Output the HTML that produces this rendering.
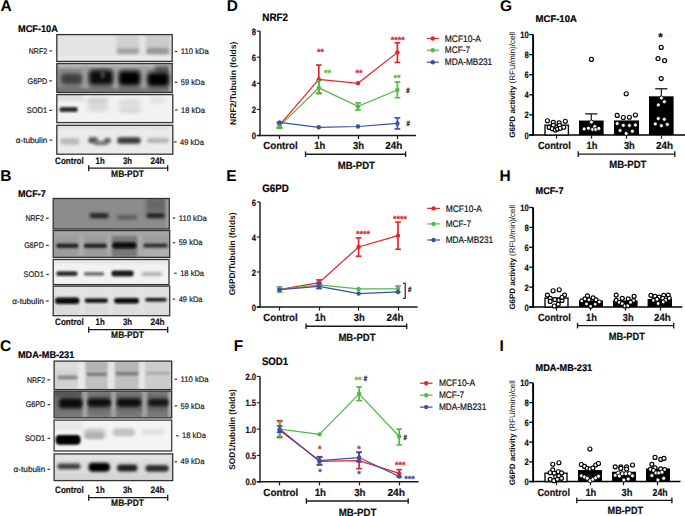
<!DOCTYPE html>
<html><head><meta charset="utf-8"><style>
html,body{margin:0;padding:0;background:#fff;}
body{width:685px;height:516px;overflow:hidden;}
svg{display:block;font-family:"Liberation Sans",sans-serif;text-rendering:geometricPrecision;}
</style></head><body>
<svg width="685" height="516" viewBox="0 0 685 516">
<defs>
<filter id="b0.8" x="-50%" y="-50%" width="200%" height="200%"><feGaussianBlur stdDeviation="0.8"/></filter>
<filter id="b1" x="-50%" y="-50%" width="200%" height="200%"><feGaussianBlur stdDeviation="1"/></filter>
<filter id="b1.1" x="-50%" y="-50%" width="200%" height="200%"><feGaussianBlur stdDeviation="1.1"/></filter>
<filter id="b1.2" x="-50%" y="-50%" width="200%" height="200%"><feGaussianBlur stdDeviation="1.2"/></filter>
<filter id="b1.3" x="-50%" y="-50%" width="200%" height="200%"><feGaussianBlur stdDeviation="1.3"/></filter>
<filter id="b1.4" x="-50%" y="-50%" width="200%" height="200%"><feGaussianBlur stdDeviation="1.4"/></filter>
<filter id="b1.5" x="-50%" y="-50%" width="200%" height="200%"><feGaussianBlur stdDeviation="1.5"/></filter>
<filter id="b1.6" x="-50%" y="-50%" width="200%" height="200%"><feGaussianBlur stdDeviation="1.6"/></filter>
<filter id="b1.8" x="-50%" y="-50%" width="200%" height="200%"><feGaussianBlur stdDeviation="1.8"/></filter>
<filter id="b2" x="-50%" y="-50%" width="200%" height="200%"><feGaussianBlur stdDeviation="2"/></filter>
<filter id="b2.1" x="-50%" y="-50%" width="200%" height="200%"><feGaussianBlur stdDeviation="2.1"/></filter>
<filter id="b2.2" x="-50%" y="-50%" width="200%" height="200%"><feGaussianBlur stdDeviation="2.2"/></filter>
<filter id="b2.3" x="-50%" y="-50%" width="200%" height="200%"><feGaussianBlur stdDeviation="2.3"/></filter>
<filter id="b2.5" x="-50%" y="-50%" width="200%" height="200%"><feGaussianBlur stdDeviation="2.5"/></filter>
</defs>
<rect width="685" height="516" fill="#fff"/>
<text x="0.50" y="11.20" font-size="15.5" font-weight="bold" text-anchor="start" fill="#000" >A</text>
<text x="0.20" y="181.40" font-size="15.5" font-weight="bold" text-anchor="start" fill="#000" >B</text>
<text x="0.10" y="351.00" font-size="15.5" font-weight="bold" text-anchor="start" fill="#000" >C</text>
<text x="226.80" y="11.30" font-size="15.5" font-weight="bold" text-anchor="start" fill="#000" >D</text>
<text x="226.30" y="181.40" font-size="15.5" font-weight="bold" text-anchor="start" fill="#000" >E</text>
<text x="233.80" y="351.00" font-size="15.5" font-weight="bold" text-anchor="start" fill="#000" >F</text>
<text x="499.90" y="11.20" font-size="15.5" font-weight="bold" text-anchor="start" fill="#000" >G</text>
<text x="499.50" y="181.40" font-size="15.5" font-weight="bold" text-anchor="start" fill="#000" >H</text>
<text x="499.60" y="351.00" font-size="15.5" font-weight="bold" text-anchor="start" fill="#000" >I</text>
<text x="18.00" y="31.75" font-size="9.8" font-weight="bold" textLength="39.80" lengthAdjust="spacingAndGlyphs" fill="#000"  stroke="#000" stroke-width="0.2">MCF-10A</text>
<clipPath id="c1"><rect x="56.8" y="34.6" width="115.40" height="26.80"/></clipPath>
<g clip-path="url(#c1)">
<rect x="56.8" y="34.6" width="115.40" height="26.80" fill="#e3e3e3"/>
<rect x="116.5" y="34" width="22.50" height="21.00" fill="#d0d0d0" opacity="1" filter="url(#b1.5)"/>
<rect x="146" y="34" width="24.00" height="21.00" fill="#cbcbcb" opacity="1" filter="url(#b1.5)"/>
<rect x="57" y="55.5" width="115.00" height="5.50" fill="#e9e9e9" opacity="1" filter="url(#b1)"/>
<rect x="117" y="48.25" width="22.00" height="5.5" rx="2.75" fill="#a3a3a3" opacity="1" filter="url(#b1.5)"/>
<rect x="146.5" y="48.00" width="22.50" height="6" rx="3.00" fill="#959595" opacity="1" filter="url(#b1.5)"/>
</g>
<rect x="56.8" y="34.6" width="115.40" height="26.80" fill="none" stroke="#333" stroke-width="1.3"/>
<clipPath id="c2"><rect x="56.8" y="63.5" width="115.40" height="29.00"/></clipPath>
<g clip-path="url(#c2)">
<rect x="56.8" y="63.5" width="115.40" height="29.00" fill="#8e8e8e"/>
<rect x="57" y="63.5" width="115.00" height="4.00" fill="#c0c0c0" opacity="1" filter="url(#b1.5)"/>
<rect x="57" y="87" width="115.00" height="6.00" fill="#727272" opacity="1" filter="url(#b1.5)"/>
<rect x="82" y="66" width="7.00" height="22.00" fill="#a0a0a0" opacity="1" filter="url(#b1.5)"/>
<rect x="113" y="66" width="5.00" height="22.00" fill="#a8a8a8" opacity="1" filter="url(#b1.5)"/>
<rect x="141" y="66" width="6.00" height="22.00" fill="#a0a0a0" opacity="1" filter="url(#b1.5)"/>
<rect x="155" y="66" width="15.00" height="8.00" fill="#555" opacity="1" filter="url(#b2)"/>
<rect x="169" y="63" width="4.00" height="30.00" fill="#aaa" opacity="1" filter="url(#b1)"/>
<rect x="61" y="73.50" width="21.00" height="11" rx="4.00" fill="#3c3c3c" opacity="1" filter="url(#b2.3)"/>
<rect x="89" y="70.10" width="24.00" height="15" rx="4.00" fill="#080808" opacity="1" filter="url(#b2.2)"/>
<rect x="118.9" y="71.05" width="21.20" height="14.5" rx="4.00" fill="#000" opacity="1" filter="url(#b2.1)"/>
<rect x="147.4" y="72.75" width="21.70" height="13.5" rx="4.00" fill="#000" opacity="1" filter="url(#b2.1)"/>
<rect x="101" y="70.5" width="3.50" height="7.50" fill="#4a4a4a" opacity="1" filter="url(#b1.6)"/>
</g>
<rect x="56.8" y="63.5" width="115.40" height="29.00" fill="none" stroke="#333" stroke-width="1.3"/>
<clipPath id="c3"><rect x="56.8" y="94.6" width="116.00" height="28.00"/></clipPath>
<g clip-path="url(#c3)">
<rect x="56.8" y="94.6" width="116.00" height="28.00" fill="#f2f2f2"/>
<rect x="57" y="94" width="27.00" height="7.00" fill="#dedede" opacity="1" filter="url(#b1.5)"/>
<rect x="59.4" y="107.00" width="18.40" height="5" rx="2.50" fill="#2e2e2e" opacity="1" filter="url(#b1.2)"/>
<rect x="87.4" y="97.50" width="21.00" height="7" rx="3.50" fill="#cacaca" opacity="1" filter="url(#b2.5)"/>
<rect x="87.4" y="105.00" width="21.00" height="6" rx="3.00" fill="#d4d4d4" opacity="1" filter="url(#b2.5)"/>
<rect x="119" y="99.50" width="21.80" height="7" rx="3.50" fill="#d8d8d8" opacity="1" filter="url(#b2.5)"/>
<rect x="119" y="107.50" width="21.80" height="5" rx="2.50" fill="#d0d0d0" opacity="1" filter="url(#b2.3)"/>
<rect x="149.6" y="96.50" width="15.70" height="7" rx="3.50" fill="#e2e2e2" opacity="1" filter="url(#b2.3)"/>
</g>
<rect x="56.8" y="94.6" width="116.00" height="28.00" fill="none" stroke="#333" stroke-width="1.3"/>
<clipPath id="c4"><rect x="56.8" y="125.3" width="116.00" height="28.90"/></clipPath>
<g clip-path="url(#c4)">
<rect x="56.8" y="125.3" width="116.00" height="28.90" fill="#ebebeb"/>
<rect x="57" y="125" width="115.00" height="4.00" fill="#e0e0e0" opacity="1" filter="url(#b1.2)"/>
<rect x="60.3" y="138.15" width="19.20" height="6.5" rx="3.25" fill="#bababa" opacity="1" filter="url(#b1.6)"/>
<rect x="88.3" y="137.20" width="9.70" height="6" rx="3.00" fill="#505050" opacity="1" filter="url(#b1.4)"/>
<rect x="94" y="140.75" width="14.00" height="4.5" rx="2.25" fill="#777" opacity="1" filter="url(#b1.4)"/>
<rect x="104" y="138.00" width="7.00" height="5" rx="2.50" fill="#5a5a5a" opacity="1" filter="url(#b1.4)"/>
<rect x="117.2" y="137.25" width="23.60" height="6.5" rx="3.25" fill="#3a3a3a" opacity="1" filter="url(#b1.4)"/>
<rect x="147" y="138.00" width="21.80" height="5" rx="2.50" fill="#b2b2b2" opacity="1" filter="url(#b1.6)"/>
</g>
<rect x="56.8" y="125.3" width="116.00" height="28.90" fill="none" stroke="#333" stroke-width="1.3"/>
<text x="28.80" y="53.60" font-size="8.2" textLength="18.30" lengthAdjust="spacingAndGlyphs" fill="#1e1e1e" stroke="#1e1e1e" stroke-width="0.22">NRF2</text>
<rect x="49.40" y="50.30" width="2.60" height="1.2" fill="#333"/>
<text x="27.60" y="83.60" font-size="8.2" textLength="19.50" lengthAdjust="spacingAndGlyphs" fill="#1e1e1e" stroke="#1e1e1e" stroke-width="0.22">G6PD</text>
<rect x="49.40" y="80.30" width="2.60" height="1.2" fill="#333"/>
<text x="26.80" y="113.10" font-size="8.2" textLength="20.30" lengthAdjust="spacingAndGlyphs" fill="#1e1e1e" stroke="#1e1e1e" stroke-width="0.22">SOD1</text>
<rect x="49.40" y="109.80" width="2.60" height="1.2" fill="#333"/>
<text x="15.70" y="142.80" font-size="8.2" textLength="31.60" lengthAdjust="spacingAndGlyphs" fill="#1e1e1e" stroke="#1e1e1e" stroke-width="0.22">α-tubulin</text>
<rect x="49.60" y="139.50" width="2.60" height="1.2" fill="#333"/>
<text x="180.80" y="54.10" font-size="8.1" textLength="28.00" lengthAdjust="spacingAndGlyphs" fill="#1e1e1e" stroke="#1e1e1e" stroke-width="0.22">110 kDa</text>
<rect x="174.80" y="50.90" width="2.50" height="1.2" fill="#333"/>
<text x="180.80" y="84.80" font-size="8.1" textLength="23.80" lengthAdjust="spacingAndGlyphs" fill="#1e1e1e" stroke="#1e1e1e" stroke-width="0.22">59 kDa</text>
<rect x="174.80" y="81.60" width="2.50" height="1.2" fill="#333"/>
<text x="181.10" y="112.60" font-size="8.1" textLength="23.80" lengthAdjust="spacingAndGlyphs" fill="#1e1e1e" stroke="#1e1e1e" stroke-width="0.22">18 kDa</text>
<rect x="175.10" y="109.40" width="2.50" height="1.2" fill="#333"/>
<text x="180.10" y="144.60" font-size="8.1" textLength="23.80" lengthAdjust="spacingAndGlyphs" fill="#1e1e1e" stroke="#1e1e1e" stroke-width="0.22">49 kDa</text>
<rect x="174.10" y="141.40" width="2.50" height="1.2" fill="#333"/>
<text x="55.10" y="163.70" font-size="9.4" font-weight="bold" textLength="28.70" lengthAdjust="spacingAndGlyphs" fill="#111"  stroke="#111" stroke-width="0.2">Control</text>
<text x="95.60" y="163.70" font-size="9.4" font-weight="bold" textLength="9.10" lengthAdjust="spacingAndGlyphs" fill="#111"  stroke="#111" stroke-width="0.2">1h</text>
<text x="123.00" y="163.70" font-size="9.4" font-weight="bold" textLength="9.10" lengthAdjust="spacingAndGlyphs" fill="#111"  stroke="#111" stroke-width="0.2">3h</text>
<text x="150.40" y="163.70" font-size="9.4" font-weight="bold" textLength="14.20" lengthAdjust="spacingAndGlyphs" fill="#111"  stroke="#111" stroke-width="0.2">24h</text>
<line x1="88.70" y1="168.20" x2="167.70" y2="168.20" stroke="#1a1a1a" stroke-width="1.3" />
<line x1="88.70" y1="165.20" x2="88.70" y2="171.20" stroke="#1a1a1a" stroke-width="1.3" />
<line x1="167.70" y1="165.20" x2="167.70" y2="171.20" stroke="#1a1a1a" stroke-width="1.3" />
<text x="111.10" y="176.50" font-size="9.4" font-weight="bold" textLength="32.90" lengthAdjust="spacingAndGlyphs" fill="#111"  stroke="#111" stroke-width="0.2">MB-PDT</text>
<text x="18.00" y="196.75" font-size="9.8" font-weight="bold" textLength="27.80" lengthAdjust="spacingAndGlyphs" fill="#000"  stroke="#000" stroke-width="0.2">MCF-7</text>
<clipPath id="c5"><rect x="53.2" y="198.5" width="116.10" height="30.50"/></clipPath>
<g clip-path="url(#c5)">
<rect x="53.2" y="198.5" width="116.10" height="30.50" fill="#8c8c8c"/>
<rect x="146" y="198" width="20.00" height="14.00" fill="#666" opacity="1" filter="url(#b2)"/>
<rect x="166" y="198" width="4.00" height="31.00" fill="#9c9c9c" opacity="1" filter="url(#b1.2)"/>
<rect x="89.5" y="212.95" width="19.30" height="5.3" rx="2.65" fill="#262626" opacity="1" filter="url(#b1.4)"/>
<rect x="116.8" y="214.75" width="20.50" height="5.3" rx="2.65" fill="#606060" opacity="1" filter="url(#b1.6)"/>
<rect x="146.2" y="212.95" width="18.70" height="5.3" rx="2.65" fill="#202020" opacity="1" filter="url(#b1.4)"/>
</g>
<rect x="53.2" y="198.5" width="116.10" height="30.50" fill="none" stroke="#333" stroke-width="1.3"/>
<clipPath id="c6"><rect x="53.2" y="230.5" width="116.50" height="26.90"/></clipPath>
<g clip-path="url(#c6)">
<rect x="53.2" y="230.5" width="116.50" height="26.90" fill="#9c9c9c"/>
<rect x="79" y="231" width="5.00" height="26.00" fill="#acacac" opacity="1" filter="url(#b1.5)"/>
<rect x="107" y="231" width="5.00" height="26.00" fill="#acacac" opacity="1" filter="url(#b1.5)"/>
<rect x="137" y="231" width="5.60" height="26.00" fill="#acacac" opacity="1" filter="url(#b1.5)"/>
<rect x="112" y="231" width="25.00" height="26.00" fill="#787878" opacity="1" filter="url(#b1.5)"/>
<rect x="143" y="249" width="27.00" height="8.00" fill="#b0b0b0" opacity="1" filter="url(#b1.5)"/>
<rect x="55" y="231" width="115.00" height="5.00" fill="#a5a5a5" opacity="1" filter="url(#b1.2)"/>
<rect x="56.2" y="243.55" width="22.30" height="4.5" rx="2.25" fill="#282828" opacity="1" filter="url(#b1.3)"/>
<rect x="83.8" y="243.55" width="23.20" height="4.5" rx="2.25" fill="#282828" opacity="1" filter="url(#b1.3)"/>
<rect x="112.3" y="242.25" width="24.10" height="6.3" rx="3.15" fill="#0a0a0a" opacity="1" filter="url(#b1.3)"/>
<rect x="143.5" y="243.60" width="24.00" height="3.8" rx="1.90" fill="#333" opacity="1" filter="url(#b1.3)"/>
</g>
<rect x="53.2" y="230.5" width="116.50" height="26.90" fill="none" stroke="#333" stroke-width="1.3"/>
<clipPath id="c7"><rect x="53.2" y="259.5" width="115.80" height="25.10"/></clipPath>
<g clip-path="url(#c7)">
<rect x="53.2" y="259.5" width="115.80" height="25.10" fill="#f2f2f2"/>
<rect x="54" y="260" width="115.00" height="4.00" fill="#e6e6e6" opacity="1" filter="url(#b1.2)"/>
<rect x="56.2" y="271.30" width="21.40" height="4.8" rx="2.40" fill="#2e2e2e" opacity="1" filter="url(#b1.3)"/>
<rect x="83.8" y="271.95" width="20.50" height="3.7" rx="1.85" fill="#737373" opacity="1" filter="url(#b1.3)"/>
<rect x="111.4" y="270.60" width="22.30" height="5.8" rx="2.90" fill="#1e1e1e" opacity="1" filter="url(#b1.3)"/>
<rect x="141.7" y="272.15" width="20.50" height="3.5" rx="1.75" fill="#a8a8a8" opacity="1" filter="url(#b1.4)"/>
</g>
<rect x="53.2" y="259.5" width="115.80" height="25.10" fill="none" stroke="#333" stroke-width="1.3"/>
<clipPath id="c8"><rect x="53.2" y="286.1" width="116.50" height="29.60"/></clipPath>
<g clip-path="url(#c8)">
<rect x="53.2" y="286.1" width="116.50" height="29.60" fill="#dcdcdc"/>
<rect x="54" y="286" width="116.00" height="10.00" fill="#e3e3e3" opacity="1" filter="url(#b1.5)"/>
<rect x="80" y="286" width="4.00" height="30.00" fill="#e3e3e3" opacity="1" filter="url(#b1.5)"/>
<rect x="109" y="286" width="4.00" height="30.00" fill="#e3e3e3" opacity="1" filter="url(#b1.5)"/>
<rect x="140" y="286" width="4.00" height="30.00" fill="#e3e3e3" opacity="1" filter="url(#b1.5)"/>
<rect x="55" y="297.40" width="24.40" height="6.6" rx="3.30" fill="#080808" opacity="1" filter="url(#b1.3)"/>
<rect x="84.7" y="298.55" width="23.20" height="4.1" rx="2.05" fill="#0c0c0c" opacity="1" filter="url(#b1.3)"/>
<rect x="114.1" y="298.05" width="24.90" height="5.5" rx="2.75" fill="#0c0c0c" opacity="1" filter="url(#b1.3)"/>
<rect x="145.3" y="297.90" width="21.40" height="3.6" rx="1.80" fill="#181818" opacity="1" filter="url(#b1.3)"/>
</g>
<rect x="53.2" y="286.1" width="116.50" height="29.60" fill="none" stroke="#333" stroke-width="1.3"/>
<text x="25.50" y="220.90" font-size="8.2" textLength="18.30" lengthAdjust="spacingAndGlyphs" fill="#1e1e1e" stroke="#1e1e1e" stroke-width="0.22">NRF2</text>
<rect x="46.10" y="217.60" width="2.60" height="1.2" fill="#333"/>
<text x="24.30" y="248.10" font-size="8.2" textLength="19.50" lengthAdjust="spacingAndGlyphs" fill="#1e1e1e" stroke="#1e1e1e" stroke-width="0.22">G6PD</text>
<rect x="46.10" y="244.80" width="2.60" height="1.2" fill="#333"/>
<text x="23.50" y="277.20" font-size="8.2" textLength="20.30" lengthAdjust="spacingAndGlyphs" fill="#1e1e1e" stroke="#1e1e1e" stroke-width="0.22">SOD1</text>
<rect x="46.10" y="273.90" width="2.60" height="1.2" fill="#333"/>
<text x="12.20" y="303.70" font-size="8.2" textLength="31.60" lengthAdjust="spacingAndGlyphs" fill="#1e1e1e" stroke="#1e1e1e" stroke-width="0.22">α-tubulin</text>
<rect x="46.10" y="300.40" width="2.60" height="1.2" fill="#333"/>
<text x="178.70" y="220.70" font-size="8.1" textLength="28.00" lengthAdjust="spacingAndGlyphs" fill="#1e1e1e" stroke="#1e1e1e" stroke-width="0.22">110 kDa</text>
<rect x="172.70" y="217.50" width="2.50" height="1.2" fill="#333"/>
<text x="178.70" y="245.30" font-size="8.1" textLength="23.80" lengthAdjust="spacingAndGlyphs" fill="#1e1e1e" stroke="#1e1e1e" stroke-width="0.22">59 kDa</text>
<rect x="172.70" y="242.10" width="2.50" height="1.2" fill="#333"/>
<text x="180.20" y="275.80" font-size="8.1" textLength="23.80" lengthAdjust="spacingAndGlyphs" fill="#1e1e1e" stroke="#1e1e1e" stroke-width="0.22">18 kDa</text>
<rect x="174.20" y="272.60" width="2.50" height="1.2" fill="#333"/>
<text x="178.70" y="301.70" font-size="8.1" textLength="23.80" lengthAdjust="spacingAndGlyphs" fill="#1e1e1e" stroke="#1e1e1e" stroke-width="0.22">49 kDa</text>
<rect x="172.70" y="298.50" width="2.50" height="1.2" fill="#333"/>
<text x="55.10" y="324.80" font-size="9.4" font-weight="bold" textLength="28.70" lengthAdjust="spacingAndGlyphs" fill="#111"  stroke="#111" stroke-width="0.2">Control</text>
<text x="95.60" y="324.80" font-size="9.4" font-weight="bold" textLength="9.10" lengthAdjust="spacingAndGlyphs" fill="#111"  stroke="#111" stroke-width="0.2">1h</text>
<text x="123.00" y="324.80" font-size="9.4" font-weight="bold" textLength="9.10" lengthAdjust="spacingAndGlyphs" fill="#111"  stroke="#111" stroke-width="0.2">3h</text>
<text x="150.40" y="324.80" font-size="9.4" font-weight="bold" textLength="14.20" lengthAdjust="spacingAndGlyphs" fill="#111"  stroke="#111" stroke-width="0.2">24h</text>
<line x1="88.70" y1="329.70" x2="167.70" y2="329.70" stroke="#1a1a1a" stroke-width="1.3" />
<line x1="88.70" y1="326.70" x2="88.70" y2="332.70" stroke="#1a1a1a" stroke-width="1.3" />
<line x1="167.70" y1="326.70" x2="167.70" y2="332.70" stroke="#1a1a1a" stroke-width="1.3" />
<text x="111.10" y="337.50" font-size="9.4" font-weight="bold" textLength="32.90" lengthAdjust="spacingAndGlyphs" fill="#111"  stroke="#111" stroke-width="0.2">MB-PDT</text>
<text x="18.00" y="358.10" font-size="9.8" font-weight="bold" textLength="56.20" lengthAdjust="spacingAndGlyphs" fill="#000"  stroke="#000" stroke-width="0.2">MDA-MB-231</text>
<clipPath id="c9"><rect x="54.1" y="361.1" width="117.60" height="28.50"/></clipPath>
<g clip-path="url(#c9)">
<rect x="54.1" y="361.1" width="117.60" height="28.50" fill="#d2d2d2"/>
<rect x="55" y="361" width="23.00" height="9.00" fill="#dcdcdc" opacity="1" filter="url(#b1.5)"/>
<rect x="77.8" y="361" width="8.00" height="29.00" fill="#e8e8e8" opacity="1" filter="url(#b0.8)"/>
<rect x="107.2" y="361" width="8.00" height="29.00" fill="#e4e4e4" opacity="1" filter="url(#b0.8)"/>
<rect x="138.4" y="361" width="7.10" height="29.00" fill="#e6e6e6" opacity="1" filter="url(#b0.8)"/>
<rect x="85.8" y="361" width="21.40" height="29.00" fill="#c0c0c0" opacity="1" filter="url(#b1)"/>
<rect x="115.2" y="361" width="23.20" height="29.00" fill="#c0c0c0" opacity="1" filter="url(#b1)"/>
<rect x="145.5" y="361" width="24.90" height="29.00" fill="#cdcdcd" opacity="1" filter="url(#b1)"/>
<rect x="86" y="361" width="21.00" height="10.00" fill="#b2b2b2" opacity="1" filter="url(#b1.5)"/>
<rect x="115.5" y="361" width="22.50" height="10.00" fill="#b5b5b5" opacity="1" filter="url(#b1.5)"/>
<rect x="57.5" y="375.50" width="20.30" height="4" rx="2.00" fill="#8a8a8a" opacity="1" filter="url(#b1.3)"/>
<rect x="86.5" y="372.40" width="20.50" height="3.6" rx="1.80" fill="#7a7a7a" opacity="1" filter="url(#b1.3)"/>
<rect x="115.5" y="371.80" width="22.90" height="3.6" rx="1.80" fill="#7a7a7a" opacity="1" filter="url(#b1.3)"/>
<rect x="146" y="371.80" width="24.00" height="3" rx="1.50" fill="#a8a8a8" opacity="1" filter="url(#b1.3)"/>
</g>
<rect x="54.1" y="361.1" width="117.60" height="28.50" fill="none" stroke="#333" stroke-width="1.3"/>
<clipPath id="c10"><rect x="54.1" y="391.1" width="117.60" height="26.80"/></clipPath>
<g clip-path="url(#c10)">
<rect x="54.1" y="391.1" width="117.60" height="26.80" fill="#7a7a7a"/>
<rect x="55" y="391" width="27.00" height="6.00" fill="#555" opacity="1" filter="url(#b1.5)"/>
<rect x="57" y="396" width="113.00" height="14.00" fill="#5a5a5a" opacity="0.8" filter="url(#b2)"/>
<rect x="82.3" y="391" width="5.30" height="27.00" fill="#a0a0a0" opacity="1" filter="url(#b1)"/>
<rect x="110.8" y="391" width="5.30" height="27.00" fill="#a0a0a0" opacity="1" filter="url(#b1)"/>
<rect x="142" y="391" width="5.30" height="27.00" fill="#a0a0a0" opacity="1" filter="url(#b1)"/>
<rect x="168" y="391" width="4.00" height="27.00" fill="#aaa" opacity="1" filter="url(#b1)"/>
<rect x="59.1" y="398.45" width="23.20" height="9.5" rx="4.00" fill="#0a0a0a" opacity="1" filter="url(#b1.6)"/>
<rect x="87.6" y="398.70" width="23.20" height="7.8" rx="3.90" fill="#0a0a0a" opacity="1" filter="url(#b1.5)"/>
<rect x="117" y="398.70" width="24.00" height="7.8" rx="3.90" fill="#0a0a0a" opacity="1" filter="url(#b1.5)"/>
<rect x="148.2" y="398.90" width="20.50" height="7.2" rx="3.60" fill="#151515" opacity="1" filter="url(#b1.5)"/>
</g>
<rect x="54.1" y="391.1" width="117.60" height="26.80" fill="none" stroke="#333" stroke-width="1.3"/>
<clipPath id="c11"><rect x="54.1" y="420.1" width="117.60" height="30.90"/></clipPath>
<g clip-path="url(#c11)">
<rect x="54.1" y="420.1" width="117.60" height="30.90" fill="#f4f4f4"/>
<rect x="55" y="420" width="27.00" height="10.00" fill="#e8e8e8" opacity="1" filter="url(#b1.5)"/>
<rect x="55.6" y="434.90" width="24.90" height="9.8" rx="4.00" fill="#000" opacity="1" filter="url(#b1.1)"/>
<rect x="84" y="429.30" width="21.40" height="9" rx="4.00" fill="#b8b8b8" opacity="1" filter="url(#b2.1)"/>
<rect x="85" y="434.75" width="19.00" height="3.5" rx="1.75" fill="#a8a8a8" opacity="1" filter="url(#b1.8)"/>
<rect x="112.6" y="428.30" width="22.20" height="8" rx="4.00" fill="#c2c2c2" opacity="1" filter="url(#b1.8)"/>
<rect x="141" y="428.80" width="23.20" height="6" rx="3.00" fill="#e2e2e2" opacity="1" filter="url(#b1.8)"/>
</g>
<rect x="54.1" y="420.1" width="117.60" height="30.90" fill="none" stroke="#3a3a3a" stroke-width="1.3"/>
<clipPath id="c12"><rect x="54.1" y="453.9" width="118.60" height="26.70"/></clipPath>
<g clip-path="url(#c12)">
<rect x="54.1" y="453.9" width="118.60" height="26.70" fill="#dcdcdc"/>
<rect x="55" y="454" width="117.00" height="6.00" fill="#e4e4e4" opacity="1" filter="url(#b1.5)"/>
<rect x="55" y="474" width="117.00" height="7.00" fill="#d4d4d4" opacity="1" filter="url(#b1.5)"/>
<rect x="57.3" y="463.40" width="23.20" height="5.8" rx="2.90" fill="#404040" opacity="1" filter="url(#b1.4)"/>
<rect x="88.5" y="462.75" width="21.40" height="8.9" rx="4.00" fill="#000" opacity="1" filter="url(#b1.4)"/>
<rect x="117" y="464.60" width="20.50" height="6.8" rx="3.40" fill="#1a1a1a" opacity="1" filter="url(#b1.4)"/>
<rect x="145.5" y="465.10" width="23.20" height="6.6" rx="3.30" fill="#2a2a2a" opacity="1" filter="url(#b1.4)"/>
</g>
<rect x="54.1" y="453.9" width="118.60" height="26.70" fill="none" stroke="#333" stroke-width="1.3"/>
<text x="26.90" y="382.50" font-size="8.2" textLength="18.30" lengthAdjust="spacingAndGlyphs" fill="#1e1e1e" stroke="#1e1e1e" stroke-width="0.22">NRF2</text>
<rect x="47.50" y="379.20" width="2.60" height="1.2" fill="#333"/>
<text x="25.70" y="407.40" font-size="8.2" textLength="19.50" lengthAdjust="spacingAndGlyphs" fill="#1e1e1e" stroke="#1e1e1e" stroke-width="0.22">G6PD</text>
<rect x="47.50" y="404.10" width="2.60" height="1.2" fill="#333"/>
<text x="24.90" y="441.10" font-size="8.2" textLength="20.30" lengthAdjust="spacingAndGlyphs" fill="#1e1e1e" stroke="#1e1e1e" stroke-width="0.22">SOD1</text>
<rect x="47.50" y="437.80" width="2.60" height="1.2" fill="#333"/>
<text x="13.60" y="472.00" font-size="8.2" textLength="31.60" lengthAdjust="spacingAndGlyphs" fill="#1e1e1e" stroke="#1e1e1e" stroke-width="0.22">α-tubulin</text>
<rect x="47.50" y="468.70" width="2.60" height="1.2" fill="#333"/>
<text x="180.60" y="381.90" font-size="8.1" textLength="28.00" lengthAdjust="spacingAndGlyphs" fill="#1e1e1e" stroke="#1e1e1e" stroke-width="0.22">110 kDa</text>
<rect x="174.60" y="378.70" width="2.50" height="1.2" fill="#333"/>
<text x="180.60" y="408.50" font-size="8.1" textLength="23.80" lengthAdjust="spacingAndGlyphs" fill="#1e1e1e" stroke="#1e1e1e" stroke-width="0.22">59 kDa</text>
<rect x="174.60" y="405.30" width="2.50" height="1.2" fill="#333"/>
<text x="182.10" y="438.40" font-size="8.1" textLength="23.80" lengthAdjust="spacingAndGlyphs" fill="#1e1e1e" stroke="#1e1e1e" stroke-width="0.22">18 kDa</text>
<rect x="176.10" y="435.20" width="2.50" height="1.2" fill="#333"/>
<text x="180.60" y="464.40" font-size="8.1" textLength="23.80" lengthAdjust="spacingAndGlyphs" fill="#1e1e1e" stroke="#1e1e1e" stroke-width="0.22">49 kDa</text>
<rect x="174.60" y="461.20" width="2.50" height="1.2" fill="#333"/>
<text x="55.10" y="493.00" font-size="9.4" font-weight="bold" textLength="28.70" lengthAdjust="spacingAndGlyphs" fill="#111"  stroke="#111" stroke-width="0.2">Control</text>
<text x="95.60" y="493.00" font-size="9.4" font-weight="bold" textLength="9.10" lengthAdjust="spacingAndGlyphs" fill="#111"  stroke="#111" stroke-width="0.2">1h</text>
<text x="123.00" y="493.00" font-size="9.4" font-weight="bold" textLength="9.10" lengthAdjust="spacingAndGlyphs" fill="#111"  stroke="#111" stroke-width="0.2">3h</text>
<text x="150.40" y="493.00" font-size="9.4" font-weight="bold" textLength="14.20" lengthAdjust="spacingAndGlyphs" fill="#111"  stroke="#111" stroke-width="0.2">24h</text>
<line x1="88.70" y1="497.70" x2="167.70" y2="497.70" stroke="#1a1a1a" stroke-width="1.3" />
<line x1="88.70" y1="494.70" x2="88.70" y2="500.70" stroke="#1a1a1a" stroke-width="1.3" />
<line x1="167.70" y1="494.70" x2="167.70" y2="500.70" stroke="#1a1a1a" stroke-width="1.3" />
<text x="111.10" y="505.70" font-size="9.4" font-weight="bold" textLength="32.90" lengthAdjust="spacingAndGlyphs" fill="#111"  stroke="#111" stroke-width="0.2">MB-PDT</text>
<text x="262.30" y="20.70" font-size="10.9" font-weight="bold" textLength="25.70" lengthAdjust="spacingAndGlyphs" fill="#000"  stroke="#000" stroke-width="0.2">NRF2</text>
<line x1="260.00" y1="31.00" x2="260.00" y2="136.20" stroke="#484848" stroke-width="1.8" />
<line x1="256.80" y1="135.50" x2="416.00" y2="135.50" stroke="#1a1a1a" stroke-width="1.4" />
<line x1="256.80" y1="135.50" x2="260.00" y2="135.50" stroke="#1a1a1a" stroke-width="1.1" />
<text x="251.85" y="139.00" font-size="9.2" font-weight="bold" textLength="4.25" lengthAdjust="spacingAndGlyphs" fill="#111"  stroke="#111" stroke-width="0.2">0</text>
<line x1="256.80" y1="109.40" x2="260.00" y2="109.40" stroke="#1a1a1a" stroke-width="1.1" />
<text x="251.85" y="112.90" font-size="9.2" font-weight="bold" textLength="4.25" lengthAdjust="spacingAndGlyphs" fill="#111"  stroke="#111" stroke-width="0.2">2</text>
<line x1="256.80" y1="83.30" x2="260.00" y2="83.30" stroke="#1a1a1a" stroke-width="1.1" />
<text x="251.85" y="86.80" font-size="9.2" font-weight="bold" textLength="4.25" lengthAdjust="spacingAndGlyphs" fill="#111"  stroke="#111" stroke-width="0.2">4</text>
<line x1="256.80" y1="57.20" x2="260.00" y2="57.20" stroke="#1a1a1a" stroke-width="1.1" />
<text x="251.85" y="60.70" font-size="9.2" font-weight="bold" textLength="4.25" lengthAdjust="spacingAndGlyphs" fill="#111"  stroke="#111" stroke-width="0.2">6</text>
<line x1="256.80" y1="31.10" x2="260.00" y2="31.10" stroke="#1a1a1a" stroke-width="1.1" />
<text x="251.85" y="34.60" font-size="9.2" font-weight="bold" textLength="4.25" lengthAdjust="spacingAndGlyphs" fill="#111"  stroke="#111" stroke-width="0.2">8</text>
<line x1="279.50" y1="135.50" x2="279.50" y2="139.10" stroke="#1a1a1a" stroke-width="1.2" />
<line x1="318.50" y1="135.50" x2="318.50" y2="139.10" stroke="#1a1a1a" stroke-width="1.2" />
<line x1="358.50" y1="135.50" x2="358.50" y2="139.10" stroke="#1a1a1a" stroke-width="1.2" />
<line x1="397.50" y1="135.50" x2="397.50" y2="139.10" stroke="#1a1a1a" stroke-width="1.2" />
<text x="263.30" y="149.30" font-size="10.4" font-weight="bold" textLength="34.40" lengthAdjust="spacingAndGlyphs" fill="#111"  stroke="#111" stroke-width="0.2">Control</text>
<text x="314.30" y="149.30" font-size="10.4" font-weight="bold" textLength="11.00" lengthAdjust="spacingAndGlyphs" fill="#111"  stroke="#111" stroke-width="0.2">1h</text>
<text x="353.00" y="149.30" font-size="10.4" font-weight="bold" textLength="11.00" lengthAdjust="spacingAndGlyphs" fill="#111"  stroke="#111" stroke-width="0.2">3h</text>
<text x="385.20" y="149.30" font-size="10.4" font-weight="bold" textLength="17.10" lengthAdjust="spacingAndGlyphs" fill="#111"  stroke="#111" stroke-width="0.2">24h</text>
<line x1="305.50" y1="154.20" x2="405.60" y2="154.20" stroke="#1a1a1a" stroke-width="1.35" />
<line x1="305.50" y1="151.40" x2="305.50" y2="157.00" stroke="#1a1a1a" stroke-width="1.35" />
<line x1="405.60" y1="151.40" x2="405.60" y2="157.00" stroke="#1a1a1a" stroke-width="1.35" />
<text x="337.70" y="168.90" font-size="10.4" font-weight="bold" textLength="37.30" lengthAdjust="spacingAndGlyphs" fill="#111"  stroke="#111" stroke-width="0.2">MB-PDT</text>
<polyline points="279.50,125.06 318.80,79.38 358.00,83.30 397.40,52.37" fill="none" stroke="#e3242b" stroke-width="1.25"/>
<line x1="279.50" y1="127.67" x2="279.50" y2="122.45" stroke="#e3242b" stroke-width="1.7" />
<line x1="276.60" y1="127.67" x2="282.40" y2="127.67" stroke="#e3242b" stroke-width="1.6" />
<line x1="276.60" y1="122.45" x2="282.40" y2="122.45" stroke="#e3242b" stroke-width="1.6" />
<circle cx="279.50" cy="125.06" r="2.2" fill="#e3242b"/>
<line x1="318.80" y1="93.09" x2="318.80" y2="65.03" stroke="#e3242b" stroke-width="1.7" />
<line x1="315.90" y1="93.09" x2="321.70" y2="93.09" stroke="#e3242b" stroke-width="1.6" />
<line x1="315.90" y1="65.03" x2="321.70" y2="65.03" stroke="#e3242b" stroke-width="1.6" />
<circle cx="318.80" cy="79.38" r="2.2" fill="#e3242b"/>
<circle cx="358.00" cy="83.30" r="2.2" fill="#e3242b"/>
<line x1="397.40" y1="62.42" x2="397.40" y2="42.84" stroke="#e3242b" stroke-width="1.7" />
<line x1="394.50" y1="62.42" x2="400.30" y2="62.42" stroke="#e3242b" stroke-width="1.6" />
<line x1="394.50" y1="42.84" x2="400.30" y2="42.84" stroke="#e3242b" stroke-width="1.6" />
<circle cx="397.40" cy="52.37" r="2.2" fill="#e3242b"/>
<polyline points="279.50,126.10 318.80,87.87 358.00,106.40 397.40,89.96" fill="none" stroke="#52b848" stroke-width="1.25"/>
<line x1="279.50" y1="128.32" x2="279.50" y2="123.75" stroke="#52b848" stroke-width="1.7" />
<line x1="276.60" y1="128.32" x2="282.40" y2="128.32" stroke="#52b848" stroke-width="1.6" />
<line x1="276.60" y1="123.75" x2="282.40" y2="123.75" stroke="#52b848" stroke-width="1.6" />
<circle cx="279.50" cy="126.10" r="2.2" fill="#52b848"/>
<line x1="318.80" y1="93.74" x2="318.80" y2="80.69" stroke="#52b848" stroke-width="1.7" />
<line x1="315.90" y1="93.74" x2="321.70" y2="93.74" stroke="#52b848" stroke-width="1.6" />
<line x1="315.90" y1="80.69" x2="321.70" y2="80.69" stroke="#52b848" stroke-width="1.6" />
<circle cx="318.80" cy="87.87" r="2.2" fill="#52b848"/>
<line x1="358.00" y1="110.05" x2="358.00" y2="102.88" stroke="#52b848" stroke-width="1.7" />
<line x1="355.10" y1="110.05" x2="360.90" y2="110.05" stroke="#52b848" stroke-width="1.6" />
<line x1="355.10" y1="102.88" x2="360.90" y2="102.88" stroke="#52b848" stroke-width="1.6" />
<circle cx="358.00" cy="106.40" r="2.2" fill="#52b848"/>
<line x1="397.40" y1="97.66" x2="397.40" y2="82.00" stroke="#52b848" stroke-width="1.7" />
<line x1="394.50" y1="97.66" x2="400.30" y2="97.66" stroke="#52b848" stroke-width="1.6" />
<line x1="394.50" y1="82.00" x2="400.30" y2="82.00" stroke="#52b848" stroke-width="1.6" />
<circle cx="397.40" cy="89.96" r="2.2" fill="#52b848"/>
<polyline points="279.50,122.45 318.80,127.28 358.00,126.50 397.40,123.49" fill="none" stroke="#3c4ea5" stroke-width="1.25"/>
<circle cx="279.50" cy="122.45" r="2.2" fill="#3c4ea5"/>
<circle cx="318.80" cy="127.28" r="2.2" fill="#3c4ea5"/>
<circle cx="358.00" cy="126.50" r="2.2" fill="#3c4ea5"/>
<line x1="397.40" y1="128.97" x2="397.40" y2="117.88" stroke="#3c4ea5" stroke-width="1.7" />
<line x1="394.50" y1="128.97" x2="400.30" y2="128.97" stroke="#3c4ea5" stroke-width="1.6" />
<line x1="394.50" y1="117.88" x2="400.30" y2="117.88" stroke="#3c4ea5" stroke-width="1.6" />
<circle cx="397.40" cy="123.49" r="2.2" fill="#3c4ea5"/>
<line x1="426.80" y1="38.50" x2="438.80" y2="38.50" stroke="#e3242b" stroke-width="1.2" />
<circle cx="432.80" cy="38.50" r="2.2" fill="#e3242b"/>
<text x="444.80" y="41.90" font-size="9.5" textLength="36.20" lengthAdjust="spacingAndGlyphs" fill="#111"  stroke="#111" stroke-width="0.2">MCF10-A</text>
<line x1="426.80" y1="50.20" x2="438.80" y2="50.20" stroke="#52b848" stroke-width="1.2" />
<circle cx="432.80" cy="50.20" r="2.2" fill="#52b848"/>
<text x="444.80" y="53.30" font-size="9.5" textLength="25.30" lengthAdjust="spacingAndGlyphs" fill="#111"  stroke="#111" stroke-width="0.2">MCF-7</text>
<line x1="426.80" y1="62.20" x2="438.80" y2="62.20" stroke="#3c4ea5" stroke-width="1.2" />
<circle cx="432.80" cy="62.20" r="2.2" fill="#3c4ea5"/>
<text x="444.80" y="65.30" font-size="9.5" textLength="47.40" lengthAdjust="spacingAndGlyphs" fill="#111"  stroke="#111" stroke-width="0.2">MDA-MB231</text>
<text transform="translate(235.50,124.90) rotate(-90)" font-size="8.4" textLength="83.20" lengthAdjust="spacingAndGlyphs" fill="#111"><tspan font-weight="bold">NRF2/Tubulin (folds)</tspan></text>
<text x="320.50" y="55.00" font-size="9" font-weight="bold" text-anchor="middle" fill="#e3242b" stroke="#e3242b" stroke-width="0.15">**</text>
<text x="327.50" y="76.10" font-size="9" font-weight="bold" text-anchor="middle" fill="#52b848" stroke="#52b848" stroke-width="0.15">**</text>
<text x="359.00" y="75.90" font-size="9" font-weight="bold" text-anchor="middle" fill="#e3242b" stroke="#e3242b" stroke-width="0.15">**</text>
<text x="397.80" y="42.80" font-size="9" font-weight="bold" text-anchor="middle" fill="#e3242b" stroke="#e3242b" stroke-width="0.15">****</text>
<text x="397.00" y="81.10" font-size="9" font-weight="bold" text-anchor="middle" fill="#52b848" stroke="#52b848" stroke-width="0.15">**</text>
<text x="406.30" y="92.88" font-size="7.6" font-weight="bold" textLength="3.40" lengthAdjust="spacingAndGlyphs" fill="#111" stroke="#111" stroke-width="0.25">#</text>
<text x="406.40" y="126.28" font-size="7.6" font-weight="bold" textLength="3.40" lengthAdjust="spacingAndGlyphs" fill="#111" stroke="#111" stroke-width="0.25">#</text>
<text x="262.20" y="192.00" font-size="10.9" font-weight="bold" textLength="26.60" lengthAdjust="spacingAndGlyphs" fill="#000"  stroke="#000" stroke-width="0.2">G6PD</text>
<line x1="260.00" y1="202.00" x2="260.00" y2="307.70" stroke="#484848" stroke-width="1.8" />
<line x1="256.80" y1="307.00" x2="417.60" y2="307.00" stroke="#1a1a1a" stroke-width="1.4" />
<line x1="256.80" y1="307.00" x2="260.00" y2="307.00" stroke="#1a1a1a" stroke-width="1.1" />
<text x="251.85" y="310.50" font-size="9.2" font-weight="bold" textLength="4.25" lengthAdjust="spacingAndGlyphs" fill="#111"  stroke="#111" stroke-width="0.2">0</text>
<line x1="256.80" y1="272.00" x2="260.00" y2="272.00" stroke="#1a1a1a" stroke-width="1.1" />
<text x="251.85" y="275.50" font-size="9.2" font-weight="bold" textLength="4.25" lengthAdjust="spacingAndGlyphs" fill="#111"  stroke="#111" stroke-width="0.2">2</text>
<line x1="256.80" y1="237.00" x2="260.00" y2="237.00" stroke="#1a1a1a" stroke-width="1.1" />
<text x="251.85" y="240.50" font-size="9.2" font-weight="bold" textLength="4.25" lengthAdjust="spacingAndGlyphs" fill="#111"  stroke="#111" stroke-width="0.2">4</text>
<line x1="256.80" y1="202.00" x2="260.00" y2="202.00" stroke="#1a1a1a" stroke-width="1.1" />
<text x="251.85" y="205.50" font-size="9.2" font-weight="bold" textLength="4.25" lengthAdjust="spacingAndGlyphs" fill="#111"  stroke="#111" stroke-width="0.2">6</text>
<line x1="279.50" y1="307.00" x2="279.50" y2="310.60" stroke="#1a1a1a" stroke-width="1.2" />
<line x1="319.50" y1="307.00" x2="319.50" y2="310.60" stroke="#1a1a1a" stroke-width="1.2" />
<line x1="358.50" y1="307.00" x2="358.50" y2="310.60" stroke="#1a1a1a" stroke-width="1.2" />
<line x1="398.50" y1="307.00" x2="398.50" y2="310.60" stroke="#1a1a1a" stroke-width="1.2" />
<text x="263.30" y="321.10" font-size="10.4" font-weight="bold" textLength="34.40" lengthAdjust="spacingAndGlyphs" fill="#111"  stroke="#111" stroke-width="0.2">Control</text>
<text x="314.70" y="321.10" font-size="10.4" font-weight="bold" textLength="11.00" lengthAdjust="spacingAndGlyphs" fill="#111"  stroke="#111" stroke-width="0.2">1h</text>
<text x="353.70" y="321.10" font-size="10.4" font-weight="bold" textLength="11.00" lengthAdjust="spacingAndGlyphs" fill="#111"  stroke="#111" stroke-width="0.2">3h</text>
<text x="386.60" y="321.10" font-size="10.4" font-weight="bold" textLength="16.80" lengthAdjust="spacingAndGlyphs" fill="#111"  stroke="#111" stroke-width="0.2">24h</text>
<line x1="306.00" y1="326.20" x2="406.70" y2="326.20" stroke="#1a1a1a" stroke-width="1.35" />
<line x1="306.00" y1="323.40" x2="306.00" y2="329.00" stroke="#1a1a1a" stroke-width="1.35" />
<line x1="406.70" y1="323.40" x2="406.70" y2="329.00" stroke="#1a1a1a" stroke-width="1.35" />
<text x="338.40" y="340.90" font-size="10.4" font-weight="bold" textLength="37.20" lengthAdjust="spacingAndGlyphs" fill="#111"  stroke="#111" stroke-width="0.2">MB-PDT</text>
<polyline points="279.50,289.50 319.00,282.68 358.60,246.97 398.00,235.60" fill="none" stroke="#e3242b" stroke-width="1.25"/>
<circle cx="279.50" cy="289.50" r="2.2" fill="#e3242b"/>
<line x1="319.00" y1="285.12" x2="319.00" y2="279.88" stroke="#e3242b" stroke-width="1.7" />
<line x1="316.10" y1="285.12" x2="321.90" y2="285.12" stroke="#e3242b" stroke-width="1.6" />
<line x1="316.10" y1="279.88" x2="321.90" y2="279.88" stroke="#e3242b" stroke-width="1.6" />
<circle cx="319.00" cy="282.68" r="2.2" fill="#e3242b"/>
<line x1="358.60" y1="256.25" x2="358.60" y2="237.88" stroke="#e3242b" stroke-width="1.7" />
<line x1="355.70" y1="256.25" x2="361.50" y2="256.25" stroke="#e3242b" stroke-width="1.6" />
<line x1="355.70" y1="237.88" x2="361.50" y2="237.88" stroke="#e3242b" stroke-width="1.6" />
<circle cx="358.60" cy="246.97" r="2.2" fill="#e3242b"/>
<line x1="398.00" y1="249.25" x2="398.00" y2="222.12" stroke="#e3242b" stroke-width="1.7" />
<line x1="395.10" y1="249.25" x2="400.90" y2="249.25" stroke="#e3242b" stroke-width="1.6" />
<line x1="395.10" y1="222.12" x2="400.90" y2="222.12" stroke="#e3242b" stroke-width="1.6" />
<circle cx="398.00" cy="235.60" r="2.2" fill="#e3242b"/>
<polyline points="279.50,289.50 319.00,284.95 358.60,288.98 398.00,288.80" fill="none" stroke="#52b848" stroke-width="1.25"/>
<line x1="279.50" y1="292.12" x2="279.50" y2="286.88" stroke="#52b848" stroke-width="1.7" />
<line x1="276.60" y1="292.12" x2="282.40" y2="292.12" stroke="#52b848" stroke-width="1.6" />
<line x1="276.60" y1="286.88" x2="282.40" y2="286.88" stroke="#52b848" stroke-width="1.6" />
<circle cx="279.50" cy="289.50" r="2.2" fill="#52b848"/>
<circle cx="319.00" cy="284.95" r="2.2" fill="#52b848"/>
<circle cx="358.60" cy="288.98" r="2.2" fill="#52b848"/>
<line x1="398.00" y1="292.12" x2="398.00" y2="286.00" stroke="#52b848" stroke-width="1.7" />
<line x1="395.10" y1="292.12" x2="400.90" y2="292.12" stroke="#52b848" stroke-width="1.6" />
<line x1="395.10" y1="286.00" x2="400.90" y2="286.00" stroke="#52b848" stroke-width="1.6" />
<circle cx="398.00" cy="288.80" r="2.2" fill="#52b848"/>
<polyline points="279.50,289.68 319.00,286.35 358.60,293.52 398.00,291.95" fill="none" stroke="#3c4ea5" stroke-width="1.25"/>
<circle cx="279.50" cy="289.68" r="2.2" fill="#3c4ea5"/>
<line x1="319.00" y1="288.62" x2="319.00" y2="283.38" stroke="#3c4ea5" stroke-width="1.7" />
<line x1="316.10" y1="288.62" x2="321.90" y2="288.62" stroke="#3c4ea5" stroke-width="1.6" />
<line x1="316.10" y1="283.38" x2="321.90" y2="283.38" stroke="#3c4ea5" stroke-width="1.6" />
<circle cx="319.00" cy="286.35" r="2.2" fill="#3c4ea5"/>
<circle cx="358.60" cy="293.52" r="2.2" fill="#3c4ea5"/>
<circle cx="398.00" cy="291.95" r="2.2" fill="#3c4ea5"/>
<line x1="427.20" y1="208.40" x2="439.90" y2="208.40" stroke="#e3242b" stroke-width="1.2" />
<circle cx="433.55" cy="208.40" r="2.2" fill="#e3242b"/>
<text x="445.70" y="211.90" font-size="9.5" textLength="36.20" lengthAdjust="spacingAndGlyphs" fill="#111"  stroke="#111" stroke-width="0.2">MCF10-A</text>
<line x1="427.20" y1="223.90" x2="439.90" y2="223.90" stroke="#52b848" stroke-width="1.2" />
<circle cx="433.55" cy="223.90" r="2.2" fill="#52b848"/>
<text x="445.70" y="227.10" font-size="9.5" textLength="25.30" lengthAdjust="spacingAndGlyphs" fill="#111"  stroke="#111" stroke-width="0.2">MCF-7</text>
<line x1="427.20" y1="240.00" x2="439.90" y2="240.00" stroke="#3c4ea5" stroke-width="1.2" />
<circle cx="433.55" cy="240.00" r="2.2" fill="#3c4ea5"/>
<text x="445.70" y="242.80" font-size="9.5" textLength="47.40" lengthAdjust="spacingAndGlyphs" fill="#111"  stroke="#111" stroke-width="0.2">MDA-MB231</text>
<text transform="translate(235.40,295.20) rotate(-90)" font-size="8.4" textLength="82.70" lengthAdjust="spacingAndGlyphs" fill="#111"><tspan font-weight="bold">G6PD/Tubulin (folds)</tspan></text>
<text x="363.10" y="236.90" font-size="9" font-weight="bold" text-anchor="middle" fill="#e3242b" stroke="#e3242b" stroke-width="0.15">****</text>
<text x="400.10" y="222.10" font-size="9" font-weight="bold" text-anchor="middle" fill="#e3242b" stroke="#e3242b" stroke-width="0.15">****</text>
<text x="408.00" y="291.88" font-size="7.6" font-weight="bold" textLength="3.40" lengthAdjust="spacingAndGlyphs" fill="#111" stroke="#111" stroke-width="0.25">#</text>
<path d="M403 283.2 H405.2 V298.2 H403" fill="none" stroke="#111" stroke-width="1.1"/>
<text x="261.90" y="365.00" font-size="10.9" font-weight="bold" textLength="26.30" lengthAdjust="spacingAndGlyphs" fill="#000"  stroke="#000" stroke-width="0.2">SOD1</text>
<line x1="260.00" y1="376.40" x2="260.00" y2="482.50" stroke="#484848" stroke-width="1.8" />
<line x1="256.80" y1="481.80" x2="418.60" y2="481.80" stroke="#1a1a1a" stroke-width="1.4" />
<line x1="256.80" y1="481.80" x2="260.00" y2="481.80" stroke="#1a1a1a" stroke-width="1.1" />
<text x="245.49" y="485.30" font-size="9.2" font-weight="bold" textLength="10.62" lengthAdjust="spacingAndGlyphs" fill="#111"  stroke="#111" stroke-width="0.2">0.0</text>
<line x1="256.80" y1="455.45" x2="260.00" y2="455.45" stroke="#1a1a1a" stroke-width="1.1" />
<text x="245.49" y="458.95" font-size="9.2" font-weight="bold" textLength="10.62" lengthAdjust="spacingAndGlyphs" fill="#111"  stroke="#111" stroke-width="0.2">0.5</text>
<line x1="256.80" y1="429.10" x2="260.00" y2="429.10" stroke="#1a1a1a" stroke-width="1.1" />
<text x="245.49" y="432.60" font-size="9.2" font-weight="bold" textLength="10.62" lengthAdjust="spacingAndGlyphs" fill="#111"  stroke="#111" stroke-width="0.2">1.0</text>
<line x1="256.80" y1="402.75" x2="260.00" y2="402.75" stroke="#1a1a1a" stroke-width="1.1" />
<text x="245.49" y="406.25" font-size="9.2" font-weight="bold" textLength="10.62" lengthAdjust="spacingAndGlyphs" fill="#111"  stroke="#111" stroke-width="0.2">1.5</text>
<line x1="256.80" y1="376.40" x2="260.00" y2="376.40" stroke="#1a1a1a" stroke-width="1.1" />
<text x="245.49" y="379.90" font-size="9.2" font-weight="bold" textLength="10.62" lengthAdjust="spacingAndGlyphs" fill="#111"  stroke="#111" stroke-width="0.2">2.0</text>
<line x1="279.50" y1="481.80" x2="279.50" y2="485.40" stroke="#1a1a1a" stroke-width="1.2" />
<line x1="319.50" y1="481.80" x2="319.50" y2="485.40" stroke="#1a1a1a" stroke-width="1.2" />
<line x1="359.50" y1="481.80" x2="359.50" y2="485.40" stroke="#1a1a1a" stroke-width="1.2" />
<line x1="399.50" y1="481.80" x2="399.50" y2="485.40" stroke="#1a1a1a" stroke-width="1.2" />
<text x="263.30" y="495.50" font-size="10.4" font-weight="bold" textLength="35.00" lengthAdjust="spacingAndGlyphs" fill="#111"  stroke="#111" stroke-width="0.2">Control</text>
<text x="314.70" y="495.50" font-size="10.4" font-weight="bold" textLength="11.40" lengthAdjust="spacingAndGlyphs" fill="#111"  stroke="#111" stroke-width="0.2">1h</text>
<text x="354.20" y="495.50" font-size="10.4" font-weight="bold" textLength="11.30" lengthAdjust="spacingAndGlyphs" fill="#111"  stroke="#111" stroke-width="0.2">3h</text>
<text x="387.40" y="495.50" font-size="10.4" font-weight="bold" textLength="17.60" lengthAdjust="spacingAndGlyphs" fill="#111"  stroke="#111" stroke-width="0.2">24h</text>
<line x1="306.40" y1="501.00" x2="408.20" y2="501.00" stroke="#1a1a1a" stroke-width="1.35" />
<line x1="306.40" y1="498.20" x2="306.40" y2="503.80" stroke="#1a1a1a" stroke-width="1.35" />
<line x1="408.20" y1="498.20" x2="408.20" y2="503.80" stroke="#1a1a1a" stroke-width="1.35" />
<text x="338.80" y="515.80" font-size="10.4" font-weight="bold" textLength="37.70" lengthAdjust="spacingAndGlyphs" fill="#111"  stroke="#111" stroke-width="0.2">MB-PDT</text>
<polyline points="279.70,429.10 319.50,461.25 359.10,460.72 399.20,473.37" fill="none" stroke="#e3242b" stroke-width="1.25"/>
<line x1="279.70" y1="437.53" x2="279.70" y2="420.67" stroke="#e3242b" stroke-width="1.7" />
<line x1="276.80" y1="437.53" x2="282.60" y2="437.53" stroke="#e3242b" stroke-width="1.6" />
<line x1="276.80" y1="420.67" x2="282.60" y2="420.67" stroke="#e3242b" stroke-width="1.6" />
<circle cx="279.70" cy="429.10" r="2.2" fill="#e3242b"/>
<line x1="319.50" y1="464.41" x2="319.50" y2="457.40" stroke="#e3242b" stroke-width="1.7" />
<line x1="316.60" y1="464.41" x2="322.40" y2="464.41" stroke="#e3242b" stroke-width="1.6" />
<line x1="316.60" y1="457.40" x2="322.40" y2="457.40" stroke="#e3242b" stroke-width="1.6" />
<circle cx="319.50" cy="461.25" r="2.2" fill="#e3242b"/>
<line x1="359.10" y1="468.62" x2="359.10" y2="452.29" stroke="#e3242b" stroke-width="1.7" />
<line x1="356.20" y1="468.62" x2="362.00" y2="468.62" stroke="#e3242b" stroke-width="1.6" />
<line x1="356.20" y1="452.29" x2="362.00" y2="452.29" stroke="#e3242b" stroke-width="1.6" />
<circle cx="359.10" cy="460.72" r="2.2" fill="#e3242b"/>
<line x1="399.20" y1="477.06" x2="399.20" y2="469.68" stroke="#e3242b" stroke-width="1.7" />
<line x1="396.30" y1="477.06" x2="402.10" y2="477.06" stroke="#e3242b" stroke-width="1.6" />
<line x1="396.30" y1="469.68" x2="402.10" y2="469.68" stroke="#e3242b" stroke-width="1.6" />
<circle cx="399.20" cy="473.37" r="2.2" fill="#e3242b"/>
<polyline points="279.70,429.10 319.50,434.37 359.10,393.79 399.20,436.48" fill="none" stroke="#52b848" stroke-width="1.25"/>
<line x1="279.70" y1="436.48" x2="279.70" y2="421.72" stroke="#52b848" stroke-width="1.7" />
<line x1="276.80" y1="436.48" x2="282.60" y2="436.48" stroke="#52b848" stroke-width="1.6" />
<line x1="276.80" y1="421.72" x2="282.60" y2="421.72" stroke="#52b848" stroke-width="1.6" />
<circle cx="279.70" cy="429.10" r="2.2" fill="#52b848"/>
<circle cx="319.50" cy="434.37" r="2.2" fill="#52b848"/>
<line x1="359.10" y1="400.64" x2="359.10" y2="386.94" stroke="#52b848" stroke-width="1.7" />
<line x1="356.20" y1="400.64" x2="362.00" y2="400.64" stroke="#52b848" stroke-width="1.6" />
<line x1="356.20" y1="386.94" x2="362.00" y2="386.94" stroke="#52b848" stroke-width="1.6" />
<circle cx="359.10" cy="393.79" r="2.2" fill="#52b848"/>
<line x1="399.20" y1="444.91" x2="399.20" y2="429.10" stroke="#52b848" stroke-width="1.7" />
<line x1="396.30" y1="444.91" x2="402.10" y2="444.91" stroke="#52b848" stroke-width="1.6" />
<line x1="396.30" y1="429.10" x2="402.10" y2="429.10" stroke="#52b848" stroke-width="1.6" />
<circle cx="399.20" cy="436.48" r="2.2" fill="#52b848"/>
<polyline points="279.70,430.15 319.50,460.72 359.10,457.56 399.20,476.53" fill="none" stroke="#3c4ea5" stroke-width="1.25"/>
<line x1="279.70" y1="432.26" x2="279.70" y2="425.94" stroke="#3c4ea5" stroke-width="1.7" />
<line x1="276.80" y1="432.26" x2="282.60" y2="432.26" stroke="#3c4ea5" stroke-width="1.6" />
<line x1="276.80" y1="425.94" x2="282.60" y2="425.94" stroke="#3c4ea5" stroke-width="1.6" />
<circle cx="279.70" cy="430.15" r="2.2" fill="#3c4ea5"/>
<line x1="319.50" y1="464.99" x2="319.50" y2="456.71" stroke="#3c4ea5" stroke-width="1.7" />
<line x1="316.60" y1="464.99" x2="322.40" y2="464.99" stroke="#3c4ea5" stroke-width="1.6" />
<line x1="316.60" y1="456.71" x2="322.40" y2="456.71" stroke="#3c4ea5" stroke-width="1.6" />
<circle cx="319.50" cy="460.72" r="2.2" fill="#3c4ea5"/>
<line x1="359.10" y1="461.77" x2="359.10" y2="452.29" stroke="#3c4ea5" stroke-width="1.7" />
<line x1="356.20" y1="461.77" x2="362.00" y2="461.77" stroke="#3c4ea5" stroke-width="1.6" />
<line x1="356.20" y1="452.29" x2="362.00" y2="452.29" stroke="#3c4ea5" stroke-width="1.6" />
<circle cx="359.10" cy="457.56" r="2.2" fill="#3c4ea5"/>
<circle cx="399.20" cy="476.53" r="2.2" fill="#3c4ea5"/>
<line x1="419.90" y1="383.20" x2="432.50" y2="383.20" stroke="#e3242b" stroke-width="1.2" />
<circle cx="426.20" cy="383.20" r="2.2" fill="#e3242b"/>
<text x="438.90" y="386.30" font-size="9.5" textLength="36.20" lengthAdjust="spacingAndGlyphs" fill="#111"  stroke="#111" stroke-width="0.2">MCF10-A</text>
<line x1="419.90" y1="395.20" x2="432.50" y2="395.20" stroke="#52b848" stroke-width="1.2" />
<circle cx="426.20" cy="395.20" r="2.2" fill="#52b848"/>
<text x="438.90" y="398.00" font-size="9.5" textLength="25.30" lengthAdjust="spacingAndGlyphs" fill="#111"  stroke="#111" stroke-width="0.2">MCF-7</text>
<line x1="419.90" y1="407.10" x2="432.50" y2="407.10" stroke="#3c4ea5" stroke-width="1.2" />
<circle cx="426.20" cy="407.10" r="2.2" fill="#3c4ea5"/>
<text x="438.90" y="410.20" font-size="9.5" textLength="47.40" lengthAdjust="spacingAndGlyphs" fill="#111"  stroke="#111" stroke-width="0.2">MDA-MB231</text>
<text transform="translate(234.90,469.80) rotate(-90)" font-size="8.4" textLength="80.60" lengthAdjust="spacingAndGlyphs" fill="#111"><tspan font-weight="bold">SOD1/tubulin (folds)</tspan></text>
<text x="358.00" y="382.90" font-size="9" font-weight="bold" text-anchor="middle" fill="#52b848" stroke="#52b848" stroke-width="0.15">**</text>
<text x="363.80" y="380.88" font-size="7.6" font-weight="bold" textLength="3.40" lengthAdjust="spacingAndGlyphs" fill="#111" stroke="#111" stroke-width="0.25">#</text>
<text x="319.80" y="451.70" font-size="9" font-weight="bold" text-anchor="middle" fill="#e3242b" stroke="#e3242b" stroke-width="0.15">*</text>
<text x="320.00" y="475.10" font-size="9" font-weight="bold" text-anchor="middle" fill="#3c4ea5" stroke="#3c4ea5" stroke-width="0.15">*</text>
<text x="359.00" y="451.50" font-size="9" font-weight="bold" text-anchor="middle" fill="#e3242b" stroke="#e3242b" stroke-width="0.15">*</text>
<text x="359.00" y="477.10" font-size="9" font-weight="bold" text-anchor="middle" fill="#3c4ea5" stroke="#3c4ea5" stroke-width="0.15">*</text>
<text x="403.40" y="439.88" font-size="7.6" font-weight="bold" textLength="3.40" lengthAdjust="spacingAndGlyphs" fill="#111" stroke="#111" stroke-width="0.25">#</text>
<text x="400.30" y="467.50" font-size="9" font-weight="bold" text-anchor="middle" fill="#e3242b" stroke="#e3242b" stroke-width="0.15">***</text>
<text x="409.40" y="481.50" font-size="9" font-weight="bold" text-anchor="middle" fill="#3c4ea5" stroke="#3c4ea5" stroke-width="0.15">***</text>
<text x="535.60" y="21.70" font-size="9.7" font-weight="bold" textLength="41.20" lengthAdjust="spacingAndGlyphs" fill="#000"  stroke="#000" stroke-width="0.2">MCF-10A</text>
<line x1="533.10" y1="34.40" x2="533.10" y2="135.70" stroke="#000" stroke-width="1.9" />
<line x1="529.30" y1="135.00" x2="685.00" y2="135.00" stroke="#000" stroke-width="1.5" />
<line x1="529.20" y1="135.00" x2="533.10" y2="135.00" stroke="#000" stroke-width="1.3" />
<text x="524.55" y="138.50" font-size="9.2" font-weight="bold" textLength="4.25" lengthAdjust="spacingAndGlyphs" fill="#111"  stroke="#111" stroke-width="0.2">0</text>
<line x1="529.20" y1="114.90" x2="533.10" y2="114.90" stroke="#000" stroke-width="1.3" />
<text x="524.55" y="118.40" font-size="9.2" font-weight="bold" textLength="4.25" lengthAdjust="spacingAndGlyphs" fill="#111"  stroke="#111" stroke-width="0.2">2</text>
<line x1="529.20" y1="94.80" x2="533.10" y2="94.80" stroke="#000" stroke-width="1.3" />
<text x="524.55" y="98.30" font-size="9.2" font-weight="bold" textLength="4.25" lengthAdjust="spacingAndGlyphs" fill="#111"  stroke="#111" stroke-width="0.2">4</text>
<line x1="529.20" y1="74.70" x2="533.10" y2="74.70" stroke="#000" stroke-width="1.3" />
<text x="524.55" y="78.20" font-size="9.2" font-weight="bold" textLength="4.25" lengthAdjust="spacingAndGlyphs" fill="#111"  stroke="#111" stroke-width="0.2">6</text>
<line x1="529.20" y1="54.60" x2="533.10" y2="54.60" stroke="#000" stroke-width="1.3" />
<text x="524.55" y="58.10" font-size="9.2" font-weight="bold" textLength="4.25" lengthAdjust="spacingAndGlyphs" fill="#111"  stroke="#111" stroke-width="0.2">8</text>
<line x1="529.20" y1="34.50" x2="533.10" y2="34.50" stroke="#000" stroke-width="1.3" />
<text x="520.31" y="38.00" font-size="9.2" font-weight="bold" textLength="8.49" lengthAdjust="spacingAndGlyphs" fill="#111"  stroke="#111" stroke-width="0.2">10</text>
<line x1="556.50" y1="135.00" x2="556.50" y2="138.60" stroke="#1a1a1a" stroke-width="1.25" />
<line x1="591.50" y1="135.00" x2="591.50" y2="138.60" stroke="#1a1a1a" stroke-width="1.25" />
<line x1="626.50" y1="135.00" x2="626.50" y2="138.60" stroke="#1a1a1a" stroke-width="1.25" />
<line x1="661.50" y1="135.00" x2="661.50" y2="138.60" stroke="#1a1a1a" stroke-width="1.25" />
<rect x="545.00" y="125.15" width="23.40" height="9.85" fill="#fff" stroke="#111" stroke-width="1.4"/>
<rect x="579.00" y="120.53" width="24.60" height="14.47" fill="#000"/>
<line x1="591.30" y1="120.53" x2="591.30" y2="113.89" stroke="#1a1a1a" stroke-width="1.2" />
<line x1="585.20" y1="113.89" x2="597.40" y2="113.89" stroke="#1a1a1a" stroke-width="1.3" />
<rect x="614.00" y="120.43" width="25.00" height="14.57" fill="#000"/>
<rect x="649.00" y="96.31" width="24.60" height="38.69" fill="#000"/>
<line x1="661.30" y1="96.31" x2="661.30" y2="88.77" stroke="#1a1a1a" stroke-width="1.2" />
<line x1="655.20" y1="88.77" x2="667.40" y2="88.77" stroke="#1a1a1a" stroke-width="1.3" />
<circle cx="547.40" cy="120.70" r="2.0" fill="#fff" stroke="#000" stroke-width="1.15"/>
<circle cx="553.30" cy="122.30" r="2.0" fill="#fff" stroke="#000" stroke-width="1.15"/>
<circle cx="559.10" cy="122.80" r="2.0" fill="#fff" stroke="#000" stroke-width="1.15"/>
<circle cx="565.30" cy="121.20" r="2.0" fill="#fff" stroke="#000" stroke-width="1.15"/>
<circle cx="553.30" cy="125.30" r="2.0" fill="#fff" stroke="#000" stroke-width="1.15"/>
<circle cx="559.50" cy="125.50" r="2.0" fill="#fff" stroke="#000" stroke-width="1.15"/>
<circle cx="549.20" cy="127.40" r="2.0" fill="#fff" stroke="#000" stroke-width="1.15"/>
<circle cx="552.30" cy="128.70" r="2.0" fill="#fff" stroke="#000" stroke-width="1.15"/>
<circle cx="555.30" cy="130.10" r="2.0" fill="#fff" stroke="#000" stroke-width="1.15"/>
<circle cx="557.60" cy="129.10" r="2.0" fill="#fff" stroke="#000" stroke-width="1.15"/>
<circle cx="560.40" cy="128.20" r="2.0" fill="#fff" stroke="#000" stroke-width="1.15"/>
<circle cx="563.70" cy="127.20" r="2.0" fill="#fff" stroke="#000" stroke-width="1.15"/>
<circle cx="591.40" cy="59.40" r="2.0" fill="#fff" stroke="#000" stroke-width="1.15"/>
<circle cx="591.40" cy="122.10" r="2.0" fill="#fff" stroke="#000" stroke-width="0.8"/>
<circle cx="584.10" cy="128.90" r="2.0" fill="#fff" stroke="#000" stroke-width="0.8"/>
<circle cx="588.50" cy="128.20" r="2.0" fill="#fff" stroke="#000" stroke-width="0.8"/>
<circle cx="592.60" cy="129.40" r="2.0" fill="#fff" stroke="#000" stroke-width="0.8"/>
<circle cx="594.70" cy="126.60" r="2.0" fill="#fff" stroke="#000" stroke-width="0.8"/>
<circle cx="595.70" cy="129.40" r="2.0" fill="#fff" stroke="#000" stroke-width="0.8"/>
<circle cx="598.80" cy="128.40" r="2.0" fill="#fff" stroke="#000" stroke-width="0.8"/>
<circle cx="626.20" cy="93.70" r="2.0" fill="#fff" stroke="#000" stroke-width="1.15"/>
<circle cx="617.20" cy="115.40" r="2.0" fill="#fff" stroke="#000" stroke-width="1.15"/>
<circle cx="623.30" cy="117.50" r="2.0" fill="#fff" stroke="#000" stroke-width="1.15"/>
<circle cx="629.40" cy="117.20" r="2.0" fill="#fff" stroke="#000" stroke-width="1.15"/>
<circle cx="635.40" cy="115.00" r="2.0" fill="#fff" stroke="#000" stroke-width="1.15"/>
<circle cx="617.20" cy="123.60" r="2.0" fill="#fff" stroke="#000" stroke-width="0.8"/>
<circle cx="623.30" cy="125.30" r="2.0" fill="#fff" stroke="#000" stroke-width="0.8"/>
<circle cx="629.40" cy="125.50" r="2.0" fill="#fff" stroke="#000" stroke-width="0.8"/>
<circle cx="635.40" cy="125.00" r="2.0" fill="#fff" stroke="#000" stroke-width="0.8"/>
<circle cx="620.10" cy="130.50" r="2.0" fill="#fff" stroke="#000" stroke-width="0.8"/>
<circle cx="626.20" cy="133.50" r="2.0" fill="#fff" stroke="#000" stroke-width="0.8"/>
<circle cx="632.40" cy="131.30" r="2.0" fill="#fff" stroke="#000" stroke-width="0.8"/>
<circle cx="661.20" cy="47.40" r="2.0" fill="#fff" stroke="#000" stroke-width="1.15"/>
<circle cx="658.00" cy="58.60" r="2.0" fill="#fff" stroke="#000" stroke-width="1.15"/>
<circle cx="664.60" cy="60.60" r="2.0" fill="#fff" stroke="#000" stroke-width="1.15"/>
<circle cx="661.20" cy="78.60" r="2.0" fill="#fff" stroke="#000" stroke-width="1.15"/>
<circle cx="661.40" cy="98.00" r="2.0" fill="#fff" stroke="#000" stroke-width="0.8"/>
<circle cx="664.30" cy="101.70" r="2.0" fill="#fff" stroke="#000" stroke-width="0.8"/>
<circle cx="658.30" cy="104.90" r="2.0" fill="#fff" stroke="#000" stroke-width="0.8"/>
<circle cx="658.30" cy="118.60" r="2.0" fill="#fff" stroke="#000" stroke-width="0.8"/>
<circle cx="664.30" cy="119.30" r="2.0" fill="#fff" stroke="#000" stroke-width="0.8"/>
<circle cx="655.30" cy="123.90" r="2.0" fill="#fff" stroke="#000" stroke-width="0.8"/>
<circle cx="661.40" cy="125.70" r="2.0" fill="#fff" stroke="#000" stroke-width="0.8"/>
<circle cx="667.30" cy="124.40" r="2.0" fill="#fff" stroke="#000" stroke-width="0.8"/>
<text x="537.90" y="149.30" font-size="10.4" font-weight="bold" textLength="32.80" lengthAdjust="spacingAndGlyphs" fill="#111"  stroke="#111" stroke-width="0.2">Control</text>
<text x="586.60" y="149.30" font-size="10.4" font-weight="bold" textLength="10.80" lengthAdjust="spacingAndGlyphs" fill="#111"  stroke="#111" stroke-width="0.2">1h</text>
<text x="623.90" y="149.30" font-size="10.4" font-weight="bold" textLength="10.90" lengthAdjust="spacingAndGlyphs" fill="#111"  stroke="#111" stroke-width="0.2">3h</text>
<text x="656.00" y="149.30" font-size="10.4" font-weight="bold" textLength="17.00" lengthAdjust="spacingAndGlyphs" fill="#111"  stroke="#111" stroke-width="0.2">24h</text>
<line x1="578.20" y1="154.10" x2="674.80" y2="154.10" stroke="#1a1a1a" stroke-width="1.35" />
<line x1="578.20" y1="151.30" x2="578.20" y2="156.90" stroke="#1a1a1a" stroke-width="1.35" />
<line x1="674.80" y1="151.30" x2="674.80" y2="156.90" stroke="#1a1a1a" stroke-width="1.35" />
<text x="609.20" y="168.30" font-size="10.4" font-weight="bold" textLength="37.30" lengthAdjust="spacingAndGlyphs" fill="#111"  stroke="#111" stroke-width="0.2">MB-PDT</text>
<text transform="translate(515.20,137.80) rotate(-90)" font-size="8" textLength="105.80" lengthAdjust="spacingAndGlyphs" fill="#111"><tspan font-weight="bold">G6PD activity </tspan><tspan>(RFU/min)/cell</tspan></text>
<text x="660.60" y="41.25" font-size="11.5" font-weight="bold" text-anchor="middle" fill="#000" stroke="#000" stroke-width="0.15">*</text>
<text x="535.60" y="194.40" font-size="9.7" font-weight="bold" textLength="27.90" lengthAdjust="spacingAndGlyphs" fill="#000"  stroke="#000" stroke-width="0.2">MCF-7</text>
<line x1="533.10" y1="207.40" x2="533.10" y2="307.70" stroke="#000" stroke-width="1.9" />
<line x1="529.30" y1="307.00" x2="682.40" y2="307.00" stroke="#000" stroke-width="1.5" />
<line x1="529.20" y1="307.00" x2="533.10" y2="307.00" stroke="#000" stroke-width="1.3" />
<text x="524.55" y="310.50" font-size="9.2" font-weight="bold" textLength="4.25" lengthAdjust="spacingAndGlyphs" fill="#111"  stroke="#111" stroke-width="0.2">0</text>
<line x1="529.20" y1="287.10" x2="533.10" y2="287.10" stroke="#000" stroke-width="1.3" />
<text x="524.55" y="290.60" font-size="9.2" font-weight="bold" textLength="4.25" lengthAdjust="spacingAndGlyphs" fill="#111"  stroke="#111" stroke-width="0.2">2</text>
<line x1="529.20" y1="267.20" x2="533.10" y2="267.20" stroke="#000" stroke-width="1.3" />
<text x="524.55" y="270.70" font-size="9.2" font-weight="bold" textLength="4.25" lengthAdjust="spacingAndGlyphs" fill="#111"  stroke="#111" stroke-width="0.2">4</text>
<line x1="529.20" y1="247.30" x2="533.10" y2="247.30" stroke="#000" stroke-width="1.3" />
<text x="524.55" y="250.80" font-size="9.2" font-weight="bold" textLength="4.25" lengthAdjust="spacingAndGlyphs" fill="#111"  stroke="#111" stroke-width="0.2">6</text>
<line x1="529.20" y1="227.40" x2="533.10" y2="227.40" stroke="#000" stroke-width="1.3" />
<text x="524.55" y="230.90" font-size="9.2" font-weight="bold" textLength="4.25" lengthAdjust="spacingAndGlyphs" fill="#111"  stroke="#111" stroke-width="0.2">8</text>
<line x1="529.20" y1="207.50" x2="533.10" y2="207.50" stroke="#000" stroke-width="1.3" />
<text x="520.31" y="211.00" font-size="9.2" font-weight="bold" textLength="8.49" lengthAdjust="spacingAndGlyphs" fill="#111"  stroke="#111" stroke-width="0.2">10</text>
<line x1="556.50" y1="307.00" x2="556.50" y2="310.60" stroke="#1a1a1a" stroke-width="1.25" />
<line x1="590.50" y1="307.00" x2="590.50" y2="310.60" stroke="#1a1a1a" stroke-width="1.25" />
<line x1="625.50" y1="307.00" x2="625.50" y2="310.60" stroke="#1a1a1a" stroke-width="1.25" />
<line x1="660.50" y1="307.00" x2="660.50" y2="310.60" stroke="#1a1a1a" stroke-width="1.25" />
<rect x="545.00" y="298.05" width="23.00" height="8.95" fill="#fff" stroke="#111" stroke-width="1.4"/>
<rect x="579.00" y="300.53" width="24.00" height="6.47" fill="#000"/>
<rect x="613.00" y="300.53" width="24.60" height="6.47" fill="#000"/>
<rect x="647.60" y="299.04" width="24.40" height="7.96" fill="#000"/>
<circle cx="553.10" cy="290.70" r="2.0" fill="#fff" stroke="#000" stroke-width="1.15"/>
<circle cx="559.20" cy="289.70" r="2.0" fill="#fff" stroke="#000" stroke-width="1.15"/>
<circle cx="547.40" cy="295.10" r="2.0" fill="#fff" stroke="#000" stroke-width="1.15"/>
<circle cx="564.50" cy="295.10" r="2.0" fill="#fff" stroke="#000" stroke-width="1.15"/>
<circle cx="550.20" cy="298.30" r="2.0" fill="#fff" stroke="#000" stroke-width="1.15"/>
<circle cx="554.80" cy="299.60" r="2.0" fill="#fff" stroke="#000" stroke-width="1.15"/>
<circle cx="558.90" cy="300.40" r="2.0" fill="#fff" stroke="#000" stroke-width="1.15"/>
<circle cx="562.00" cy="300.40" r="2.0" fill="#fff" stroke="#000" stroke-width="1.15"/>
<circle cx="562.00" cy="297.30" r="2.0" fill="#fff" stroke="#000" stroke-width="1.15"/>
<circle cx="550.20" cy="301.40" r="2.0" fill="#fff" stroke="#000" stroke-width="1.15"/>
<circle cx="554.30" cy="306.00" r="2.0" fill="#fff" stroke="#000" stroke-width="1.15"/>
<circle cx="558.20" cy="304.30" r="2.0" fill="#fff" stroke="#000" stroke-width="1.15"/>
<circle cx="581.90" cy="300.90" r="2.0" fill="#fff" stroke="#000" stroke-width="1.15"/>
<circle cx="585.00" cy="298.90" r="2.0" fill="#fff" stroke="#000" stroke-width="1.15"/>
<circle cx="587.50" cy="295.80" r="2.0" fill="#fff" stroke="#000" stroke-width="1.15"/>
<circle cx="589.00" cy="299.90" r="2.0" fill="#fff" stroke="#000" stroke-width="1.15"/>
<circle cx="593.10" cy="297.80" r="2.0" fill="#fff" stroke="#000" stroke-width="1.15"/>
<circle cx="596.00" cy="299.90" r="2.0" fill="#fff" stroke="#000" stroke-width="1.15"/>
<circle cx="599.30" cy="302.00" r="2.0" fill="#fff" stroke="#000" stroke-width="1.15"/>
<circle cx="586.50" cy="304.00" r="2.0" fill="#fff" stroke="#000" stroke-width="1.15"/>
<circle cx="595.20" cy="304.30" r="2.0" fill="#fff" stroke="#000" stroke-width="1.15"/>
<circle cx="590.60" cy="306.30" r="2.0" fill="#fff" stroke="#000" stroke-width="1.15"/>
<circle cx="616.20" cy="295.10" r="2.0" fill="#fff" stroke="#000" stroke-width="1.15"/>
<circle cx="616.20" cy="300.40" r="2.0" fill="#fff" stroke="#000" stroke-width="1.15"/>
<circle cx="622.30" cy="298.30" r="2.0" fill="#fff" stroke="#000" stroke-width="1.15"/>
<circle cx="628.20" cy="298.90" r="2.0" fill="#fff" stroke="#000" stroke-width="1.15"/>
<circle cx="634.10" cy="296.30" r="2.0" fill="#fff" stroke="#000" stroke-width="1.15"/>
<circle cx="633.50" cy="300.60" r="2.0" fill="#fff" stroke="#000" stroke-width="1.15"/>
<circle cx="619.20" cy="302.40" r="2.0" fill="#fff" stroke="#000" stroke-width="1.15"/>
<circle cx="622.30" cy="303.70" r="2.0" fill="#fff" stroke="#000" stroke-width="1.15"/>
<circle cx="624.90" cy="306.00" r="2.0" fill="#fff" stroke="#000" stroke-width="1.15"/>
<circle cx="627.90" cy="305.70" r="2.0" fill="#fff" stroke="#000" stroke-width="1.15"/>
<circle cx="630.50" cy="302.40" r="2.0" fill="#fff" stroke="#000" stroke-width="1.15"/>
<circle cx="650.90" cy="295.30" r="2.0" fill="#fff" stroke="#000" stroke-width="1.15"/>
<circle cx="655.00" cy="296.30" r="2.0" fill="#fff" stroke="#000" stroke-width="1.15"/>
<circle cx="659.10" cy="297.10" r="2.0" fill="#fff" stroke="#000" stroke-width="1.15"/>
<circle cx="663.70" cy="295.30" r="2.0" fill="#fff" stroke="#000" stroke-width="1.15"/>
<circle cx="668.30" cy="295.10" r="2.0" fill="#fff" stroke="#000" stroke-width="1.15"/>
<circle cx="653.50" cy="300.40" r="2.0" fill="#fff" stroke="#000" stroke-width="1.15"/>
<circle cx="657.00" cy="299.40" r="2.0" fill="#fff" stroke="#000" stroke-width="1.15"/>
<circle cx="662.70" cy="298.30" r="2.0" fill="#fff" stroke="#000" stroke-width="1.15"/>
<circle cx="665.70" cy="300.20" r="2.0" fill="#fff" stroke="#000" stroke-width="1.15"/>
<circle cx="658.10" cy="303.50" r="2.0" fill="#fff" stroke="#000" stroke-width="1.15"/>
<circle cx="663.20" cy="302.00" r="2.0" fill="#fff" stroke="#000" stroke-width="1.15"/>
<circle cx="669.30" cy="298.30" r="2.0" fill="#fff" stroke="#000" stroke-width="1.15"/>
<text x="537.90" y="320.80" font-size="10.4" font-weight="bold" textLength="32.80" lengthAdjust="spacingAndGlyphs" fill="#111"  stroke="#111" stroke-width="0.2">Control</text>
<text x="586.10" y="320.80" font-size="10.4" font-weight="bold" textLength="10.90" lengthAdjust="spacingAndGlyphs" fill="#111"  stroke="#111" stroke-width="0.2">1h</text>
<text x="622.80" y="320.80" font-size="10.4" font-weight="bold" textLength="10.80" lengthAdjust="spacingAndGlyphs" fill="#111"  stroke="#111" stroke-width="0.2">3h</text>
<text x="654.00" y="320.80" font-size="10.4" font-weight="bold" textLength="16.80" lengthAdjust="spacingAndGlyphs" fill="#111"  stroke="#111" stroke-width="0.2">24h</text>
<line x1="577.50" y1="325.60" x2="673.70" y2="325.60" stroke="#1a1a1a" stroke-width="1.35" />
<line x1="577.50" y1="322.80" x2="577.50" y2="328.40" stroke="#1a1a1a" stroke-width="1.35" />
<line x1="673.70" y1="322.80" x2="673.70" y2="328.40" stroke="#1a1a1a" stroke-width="1.35" />
<text x="608.80" y="339.90" font-size="10.4" font-weight="bold" textLength="36.20" lengthAdjust="spacingAndGlyphs" fill="#111"  stroke="#111" stroke-width="0.2">MB-PDT</text>
<text transform="translate(515.20,309.60) rotate(-90)" font-size="8" textLength="104.60" lengthAdjust="spacingAndGlyphs" fill="#111"><tspan font-weight="bold">G6PD activity </tspan><tspan>(RFU/min)/cell</tspan></text>
<text x="535.60" y="371.10" font-size="9.7" font-weight="bold" textLength="56.50" lengthAdjust="spacingAndGlyphs" fill="#000"  stroke="#000" stroke-width="0.2">MDA-MB-231</text>
<line x1="533.10" y1="383.00" x2="533.10" y2="482.30" stroke="#000" stroke-width="1.9" />
<line x1="529.30" y1="481.60" x2="680.50" y2="481.60" stroke="#000" stroke-width="1.5" />
<line x1="529.20" y1="481.60" x2="533.10" y2="481.60" stroke="#000" stroke-width="1.3" />
<text x="524.55" y="485.10" font-size="9.2" font-weight="bold" textLength="4.25" lengthAdjust="spacingAndGlyphs" fill="#111"  stroke="#111" stroke-width="0.2">0</text>
<line x1="529.20" y1="461.84" x2="533.10" y2="461.84" stroke="#000" stroke-width="1.3" />
<text x="524.55" y="465.34" font-size="9.2" font-weight="bold" textLength="4.25" lengthAdjust="spacingAndGlyphs" fill="#111"  stroke="#111" stroke-width="0.2">2</text>
<line x1="529.20" y1="442.08" x2="533.10" y2="442.08" stroke="#000" stroke-width="1.3" />
<text x="524.55" y="445.58" font-size="9.2" font-weight="bold" textLength="4.25" lengthAdjust="spacingAndGlyphs" fill="#111"  stroke="#111" stroke-width="0.2">4</text>
<line x1="529.20" y1="422.32" x2="533.10" y2="422.32" stroke="#000" stroke-width="1.3" />
<text x="524.55" y="425.82" font-size="9.2" font-weight="bold" textLength="4.25" lengthAdjust="spacingAndGlyphs" fill="#111"  stroke="#111" stroke-width="0.2">6</text>
<line x1="529.20" y1="402.56" x2="533.10" y2="402.56" stroke="#000" stroke-width="1.3" />
<text x="524.55" y="406.06" font-size="9.2" font-weight="bold" textLength="4.25" lengthAdjust="spacingAndGlyphs" fill="#111"  stroke="#111" stroke-width="0.2">8</text>
<line x1="529.20" y1="382.80" x2="533.10" y2="382.80" stroke="#000" stroke-width="1.3" />
<text x="520.31" y="386.30" font-size="9.2" font-weight="bold" textLength="8.49" lengthAdjust="spacingAndGlyphs" fill="#111"  stroke="#111" stroke-width="0.2">10</text>
<line x1="556.50" y1="481.60" x2="556.50" y2="485.20" stroke="#1a1a1a" stroke-width="1.25" />
<line x1="590.50" y1="481.60" x2="590.50" y2="485.20" stroke="#1a1a1a" stroke-width="1.25" />
<line x1="623.50" y1="481.60" x2="623.50" y2="485.20" stroke="#1a1a1a" stroke-width="1.25" />
<line x1="657.50" y1="481.60" x2="657.50" y2="485.20" stroke="#1a1a1a" stroke-width="1.25" />
<rect x="545.00" y="473.20" width="22.00" height="8.40" fill="#fff" stroke="#111" stroke-width="1.4"/>
<rect x="578.00" y="470.04" width="24.00" height="11.56" fill="#000"/>
<rect x="612.00" y="471.72" width="24.00" height="9.88" fill="#000"/>
<rect x="646.00" y="468.46" width="24.00" height="13.14" fill="#000"/>
<circle cx="552.80" cy="464.20" r="2.0" fill="#fff" stroke="#000" stroke-width="1.15"/>
<circle cx="558.90" cy="462.70" r="2.0" fill="#fff" stroke="#000" stroke-width="1.15"/>
<circle cx="552.80" cy="469.80" r="2.0" fill="#fff" stroke="#000" stroke-width="1.15"/>
<circle cx="550.20" cy="472.70" r="2.0" fill="#fff" stroke="#000" stroke-width="1.15"/>
<circle cx="554.30" cy="473.20" r="2.0" fill="#fff" stroke="#000" stroke-width="1.15"/>
<circle cx="558.40" cy="471.70" r="2.0" fill="#fff" stroke="#000" stroke-width="1.15"/>
<circle cx="561.50" cy="472.90" r="2.0" fill="#fff" stroke="#000" stroke-width="1.15"/>
<circle cx="555.80" cy="476.80" r="2.0" fill="#fff" stroke="#000" stroke-width="1.15"/>
<circle cx="558.90" cy="475.80" r="2.0" fill="#fff" stroke="#000" stroke-width="1.15"/>
<circle cx="550.20" cy="479.30" r="2.0" fill="#fff" stroke="#000" stroke-width="1.15"/>
<circle cx="553.80" cy="480.70" r="2.0" fill="#fff" stroke="#000" stroke-width="1.15"/>
<circle cx="557.40" cy="479.30" r="2.0" fill="#fff" stroke="#000" stroke-width="1.15"/>
<circle cx="561.50" cy="478.30" r="2.0" fill="#fff" stroke="#000" stroke-width="1.15"/>
<circle cx="589.90" cy="449.00" r="2.0" fill="#fff" stroke="#000" stroke-width="1.15"/>
<circle cx="581.40" cy="464.50" r="2.0" fill="#fff" stroke="#000" stroke-width="1.15"/>
<circle cx="584.50" cy="466.40" r="2.0" fill="#fff" stroke="#000" stroke-width="1.15"/>
<circle cx="587.20" cy="468.40" r="2.0" fill="#fff" stroke="#000" stroke-width="1.15"/>
<circle cx="590.10" cy="469.10" r="2.0" fill="#fff" stroke="#000" stroke-width="1.15"/>
<circle cx="592.90" cy="468.10" r="2.0" fill="#fff" stroke="#000" stroke-width="1.15"/>
<circle cx="595.70" cy="465.00" r="2.0" fill="#fff" stroke="#000" stroke-width="1.15"/>
<circle cx="598.50" cy="463.50" r="2.0" fill="#fff" stroke="#000" stroke-width="1.15"/>
<circle cx="581.40" cy="475.80" r="2.0" fill="#fff" stroke="#000" stroke-width="0.8"/>
<circle cx="584.50" cy="477.00" r="2.0" fill="#fff" stroke="#000" stroke-width="0.8"/>
<circle cx="587.20" cy="478.30" r="2.0" fill="#fff" stroke="#000" stroke-width="0.8"/>
<circle cx="590.10" cy="480.70" r="2.0" fill="#fff" stroke="#000" stroke-width="0.8"/>
<circle cx="592.90" cy="479.30" r="2.0" fill="#fff" stroke="#000" stroke-width="0.8"/>
<circle cx="595.70" cy="477.80" r="2.0" fill="#fff" stroke="#000" stroke-width="0.8"/>
<circle cx="598.50" cy="476.30" r="2.0" fill="#fff" stroke="#000" stroke-width="0.8"/>
<circle cx="615.20" cy="466.80" r="2.0" fill="#fff" stroke="#000" stroke-width="1.15"/>
<circle cx="620.80" cy="466.80" r="2.0" fill="#fff" stroke="#000" stroke-width="1.15"/>
<circle cx="620.80" cy="468.40" r="2.0" fill="#fff" stroke="#000" stroke-width="1.15"/>
<circle cx="626.60" cy="466.80" r="2.0" fill="#fff" stroke="#000" stroke-width="1.15"/>
<circle cx="626.60" cy="469.10" r="2.0" fill="#fff" stroke="#000" stroke-width="1.15"/>
<circle cx="632.50" cy="465.00" r="2.0" fill="#fff" stroke="#000" stroke-width="1.15"/>
<circle cx="615.20" cy="475.30" r="2.0" fill="#fff" stroke="#000" stroke-width="0.8"/>
<circle cx="618.20" cy="473.20" r="2.0" fill="#fff" stroke="#000" stroke-width="0.8"/>
<circle cx="619.40" cy="476.00" r="2.0" fill="#fff" stroke="#000" stroke-width="0.8"/>
<circle cx="622.30" cy="473.70" r="2.0" fill="#fff" stroke="#000" stroke-width="0.8"/>
<circle cx="625.90" cy="473.70" r="2.0" fill="#fff" stroke="#000" stroke-width="0.8"/>
<circle cx="629.50" cy="473.50" r="2.0" fill="#fff" stroke="#000" stroke-width="0.8"/>
<circle cx="632.50" cy="475.80" r="2.0" fill="#fff" stroke="#000" stroke-width="0.8"/>
<circle cx="623.80" cy="479.90" r="2.0" fill="#fff" stroke="#000" stroke-width="0.8"/>
<circle cx="628.20" cy="479.00" r="2.0" fill="#fff" stroke="#000" stroke-width="0.8"/>
<circle cx="655.00" cy="457.40" r="2.0" fill="#fff" stroke="#000" stroke-width="1.15"/>
<circle cx="660.80" cy="459.40" r="2.0" fill="#fff" stroke="#000" stroke-width="1.15"/>
<circle cx="664.00" cy="458.40" r="2.0" fill="#fff" stroke="#000" stroke-width="1.15"/>
<circle cx="651.90" cy="464.30" r="2.0" fill="#fff" stroke="#000" stroke-width="1.15"/>
<circle cx="655.00" cy="467.80" r="2.0" fill="#fff" stroke="#000" stroke-width="1.15"/>
<circle cx="650.40" cy="469.40" r="2.0" fill="#fff" stroke="#000" stroke-width="1.15"/>
<circle cx="653.50" cy="470.50" r="2.0" fill="#fff" stroke="#000" stroke-width="1.15"/>
<circle cx="660.60" cy="468.80" r="2.0" fill="#fff" stroke="#000" stroke-width="1.15"/>
<circle cx="664.70" cy="469.60" r="2.0" fill="#fff" stroke="#000" stroke-width="1.15"/>
<circle cx="656.00" cy="472.90" r="2.0" fill="#fff" stroke="#000" stroke-width="0.8"/>
<circle cx="658.90" cy="472.90" r="2.0" fill="#fff" stroke="#000" stroke-width="0.8"/>
<circle cx="662.00" cy="472.20" r="2.0" fill="#fff" stroke="#000" stroke-width="0.8"/>
<circle cx="651.90" cy="475.60" r="2.0" fill="#fff" stroke="#000" stroke-width="0.8"/>
<circle cx="663.70" cy="478.30" r="2.0" fill="#fff" stroke="#000" stroke-width="0.8"/>
<circle cx="657.90" cy="479.90" r="2.0" fill="#fff" stroke="#000" stroke-width="0.8"/>
<text x="537.50" y="495.50" font-size="10.4" font-weight="bold" textLength="32.50" lengthAdjust="spacingAndGlyphs" fill="#111"  stroke="#111" stroke-width="0.2">Control</text>
<text x="585.40" y="495.50" font-size="10.4" font-weight="bold" textLength="10.90" lengthAdjust="spacingAndGlyphs" fill="#111"  stroke="#111" stroke-width="0.2">1h</text>
<text x="621.60" y="495.50" font-size="10.4" font-weight="bold" textLength="10.90" lengthAdjust="spacingAndGlyphs" fill="#111"  stroke="#111" stroke-width="0.2">3h</text>
<text x="652.60" y="495.50" font-size="10.4" font-weight="bold" textLength="15.00" lengthAdjust="spacingAndGlyphs" fill="#111"  stroke="#111" stroke-width="0.2">24h</text>
<line x1="576.80" y1="500.40" x2="671.90" y2="500.40" stroke="#1a1a1a" stroke-width="1.35" />
<line x1="576.80" y1="497.60" x2="576.80" y2="503.20" stroke="#1a1a1a" stroke-width="1.35" />
<line x1="671.90" y1="497.60" x2="671.90" y2="503.20" stroke="#1a1a1a" stroke-width="1.35" />
<text x="607.60" y="513.70" font-size="10.4" font-weight="bold" textLength="35.50" lengthAdjust="spacingAndGlyphs" fill="#111"  stroke="#111" stroke-width="0.2">MB-PDT</text>
<text transform="translate(515.20,485.30) rotate(-90)" font-size="8" textLength="105.20" lengthAdjust="spacingAndGlyphs" fill="#111"><tspan font-weight="bold">G6PD activity </tspan><tspan>(RFU/min)/cell</tspan></text>
</svg>
</body></html>
